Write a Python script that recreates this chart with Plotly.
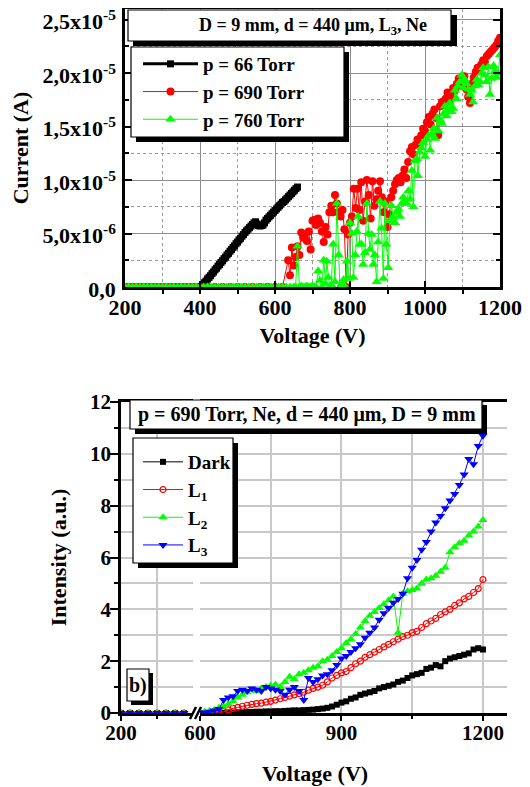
import plotly.graph_objects as go

# The page body has an 8px default margin: lay the figure out in window pixels.
OFF = 8
W, H = 530 - OFF, 787 - OFF
FONT = "Liberation Serif"

# ---------------- Top chart: current (in 1e-6 A) vs voltage ----------------
v66 = [200, 220, 240, 260, 280, 300, 320, 340, 360, 380, 400,
       404, 408, 412, 416, 420, 424, 428, 432, 436, 440, 444, 448, 452, 456, 460,
       464, 468, 472, 476, 480, 484, 488, 492, 496, 500, 504, 508, 512, 516, 520,
       524, 528, 532, 536, 540, 544, 548, 552, 556, 560, 564, 568, 572, 576, 580,
       584, 588, 592, 596, 600, 604, 608, 612, 616, 620, 624, 628, 632, 636, 640,
       644, 648, 652, 656, 660]
i66 = [0, 0, 0, 0, 0, 0, 0, 0, 0, 0, 0,
       0.05, 0.2, 0.4, 0.55, 0.75, 0.9, 1.05, 1.25, 1.4, 1.6, 1.75, 1.95, 2.1, 2.3, 2.45,
       2.65, 2.8, 3.0, 3.15, 3.35, 3.5, 3.7, 3.85, 4.05, 4.2, 4.4, 4.55, 4.75, 4.9, 5.1,
       5.25, 5.4, 5.55, 5.7, 5.85, 6.0, 6.1, 5.9, 5.75, 5.7, 5.75, 5.8, 6.0, 6.25, 6.4,
       6.55, 6.7, 6.85, 7.0, 7.15, 7.3, 7.45, 7.6, 7.75, 7.9, 8.0, 8.15, 8.3, 8.45, 8.6,
       8.75, 8.9, 9.05, 9.2, 9.35]

v690 = [200, 220, 240, 260, 280, 300, 320, 340, 360, 380, 400, 420, 440, 460, 480,
        500, 520, 540, 560, 580, 600, 620,
        635, 640, 645, 650, 655, 660, 665, 670, 675, 680,
        685, 690, 695, 700, 705, 710, 715, 720, 725, 730,
        735, 740, 745, 750, 755, 760, 765, 770, 775, 780,
        785, 790, 795, 800, 805, 810, 815, 820, 825, 830,
        835, 840, 845, 850, 855, 860, 865, 870, 875, 880,
        885, 890, 895, 900, 905, 910, 915, 920, 925, 930,
        935, 940, 945, 950, 955, 960, 965, 970, 975, 980,
        985, 990, 995, 1000, 1005, 1010, 1015, 1020, 1025, 1030,
        1035, 1040, 1045, 1050, 1055, 1060, 1065, 1070, 1075, 1080,
        1085, 1090, 1095, 1100, 1105, 1110, 1115, 1120, 1125, 1130,
        1135, 1140, 1145, 1150, 1155, 1160, 1165, 1170, 1175, 1180,
        1185, 1190, 1195, 1200]
i690 = [0, 0, 0, 0, 0, 0, 0, 0, 0, 0, 0, 0, 0, 0, 0,
        0, 0, 0, 0, 0, 0, 0,
        2.5, 1.1, 3.7, 2.0, 2.8, 3.8, 3.0, 5.1, 4.6, 4.9,
        4.3, 5.2, 3.5, 6.2, 6.3, 5.8, 6.4, 6.0, 5.2, 4.2,
        5.6, 4.9, 7.0, 7.6, 7.0, 8.6, 7.8, 7.0, 6.6, 7.2,
        5.4, 0.0, 4.9, 6.0, 6.6, 9.2, 7.4, 9.2, 7.2, 9.8,
        6.2, 8.0, 10.0, 8.6, 6.4, 9.9, 7.6, 8.2, 9.0, 9.9,
        8.4, 7.0, 8.0, 5.6, 6.8, 8.4, 9.0, 9.6, 10.0, 10.2,
        9.8, 10.4, 11.0, 10.2, 11.7, 12.7, 13.1, 12.4, 13.3, 13.8,
        13.4, 14.2, 14.8, 14.6, 15.4, 15.9, 15.2, 16.2, 16.6, 15.8,
        14.2, 16.9, 17.3, 17.0, 17.6, 18.2, 17.4, 18.0, 18.6, 18.4,
        19.0, 19.5, 18.8, 19.2, 19.7, 18.5, 17.8, 17.2, 19.0, 19.6,
        20.1, 20.5, 20.2, 20.8, 21.2, 21.0, 21.6, 21.8, 22.0, 22.2,
        22.4, 22.6, 23.0, 23.3]

v760 = [200, 210, 220, 230, 240, 250, 260, 270, 280, 290,
        300, 310, 320, 330, 340, 350, 360, 370, 380, 390,
        400, 410, 420, 430, 440, 450, 460, 470, 480, 490,
        500, 510, 520, 530, 540, 550, 560, 570, 580, 590,
        600, 610, 620, 630, 640, 650,
        655, 660, 665, 670, 675, 680, 685, 690, 695, 700,
        705, 710, 715, 720, 725, 730, 735, 738, 742, 746,
        750, 755, 760, 765, 770, 773, 778, 783, 788, 792,
        796, 800, 805, 809, 814, 818, 822, 826, 831, 835,
        840, 845, 849, 853, 858, 862, 866, 871, 875, 880,
        884, 889, 893, 897, 902, 906, 911, 915, 920, 925,
        929, 933, 938, 942, 946, 951, 956, 960, 965, 969,
        973, 978, 981, 986, 990, 995, 1000, 1005, 1010, 1014,
        1018, 1023, 1027, 1032, 1036, 1041, 1045, 1049, 1053, 1058,
        1062, 1066, 1071, 1075, 1080, 1084, 1088, 1093, 1098, 1102,
        1106, 1111, 1116, 1120, 1124, 1128, 1133, 1138, 1142, 1147,
        1151, 1155, 1160, 1164, 1169, 1173, 1178, 1183, 1187, 1191,
        1195, 1200]
i760 = [0, 0, 0, 0, 0, 0, 0, 0, 0, 0,
        0, 0, 0, 0, 0, 0, 0, 0, 0, 0,
        0, 0, 0, 0, 0, 0, 0, 0, 0, 0,
        0, 0, 0, 0, 0, 0, 0, 0, 0, 0,
        0, 0, 0, 0, 0, 0,
        0.0, 3.8, 0.0, 0.1, 0.0, 0.0, 0.1, 0.0, 0.0, 0.1,
        0.0, 0.0, 1.5, 0.6, 0.0, 2.5, 0.3, 2.4, 0.9, 0.0,
        0.2, 4.0, 0.5, 7.8, 3.0, 0.0, 0.3, 0.7, 0.0, 2.4,
        0.8, 6.0, 5.0, 0.9, 3.0, 5.2, 6.6, 4.0, 4.0, 2.1,
        3.2, 7.8, 5.0, 3.5, 4.9, 2.1, 3.0, 0.5, 4.2, 8.0,
        5.5, 0.8, 7.8, 4.0, 1.8, 6.2, 7.6, 6.5, 6.0, 7.0,
        7.3, 6.6, 7.8, 8.4, 8.0, 7.8, 9.0, 8.2, 10.9, 7.5,
        11.8, 12.0, 10.4, 12.6, 13.0, 13.5, 12.2, 13.8, 14.2, 12.8,
        14.3, 14.8, 13.9, 15.8, 14.6, 15.6, 15.3, 16.2, 16.9, 16.0,
        16.6, 17.2, 16.4, 16.7, 18.4, 17.6, 18.8, 19.2, 19.8, 18.6,
        19.4, 19.0, 18.5, 18.0, 18.4, 17.3, 18.8, 19.4, 18.9, 19.2,
        20.0, 20.5, 19.8, 19.2, 20.6, 18.0, 19.5, 20.7, 20.2, 19.6,
        20.0, 21.7]

top_xticks = [200, 400, 600, 800, 1000, 1200]
top_yticks = [0, 5e-6, 1e-5, 1.5e-5, 2e-5, 2.5e-5]
top_yticktext = ["0,0", "5,0x10<sup>-6</sup>", "1,0x10<sup>-5</sup>",
                 "1,5x10<sup>-5</sup>", "2,0x10<sup>-5</sup>", "2,5x10<sup>-5</sup>"]

# ---------------- Bottom chart: intensity vs voltage ----------------
v_left = [200, 250, 300, 350, 400, 450, 500, 550]
dark_left = [0, 0, 0, 0, 0, 0, 0, 0]
l1_left = [0, 0, 0, 0, 0, 0, 0, 0]
l2_left = [0, 0, 0, 0, 0, 0, 0, 0]
l3_left = [0, 0, 0, 0, 0, 0, 0, 0]

v_right = [600, 610, 620, 630, 640, 650, 660, 670, 680, 690,
           700, 710, 720, 730, 740, 750, 760, 770, 780, 790,
           800, 810, 820, 830, 840, 850, 860, 870, 880, 890,
           900, 910, 920, 930, 940, 950, 960, 970, 980, 990,
           1000, 1010, 1020, 1030, 1040, 1050, 1060, 1070, 1080, 1090,
           1100, 1110, 1120, 1130, 1140, 1150, 1160, 1170, 1180, 1190,
           1200]
dark = [0.0, 0.0, 0.0, 0.0, 0.0, 0.0, 0.02, 0.02, 0.03, 0.03,
        0.04, 0.04, 0.05, 0.05, 0.06, 0.06, 0.07, 0.07, 0.08, 0.09,
        0.1, 0.1, 0.11, 0.12, 0.13, 0.15, 0.17, 0.2, 0.25, 0.32,
        0.4, 0.45, 0.55, 0.6, 0.7, 0.75, 0.8, 0.85, 0.95, 1.0,
        1.05, 1.1, 1.2, 1.25, 1.35, 1.45, 1.5, 1.55, 1.7, 1.75,
        1.85, 1.8, 2.0, 2.1, 2.15, 2.2, 2.25, 2.3, 2.45, 2.5,
        2.45]
l1 = [0.0, 0.0, 0.0, 0.0, 0.02, 0.05, 0.12, 0.18, 0.22, 0.26,
      0.3, 0.33, 0.36, 0.38, 0.42, 0.45, 0.5, 0.55, 0.6, 0.65,
      0.7, 0.75, 0.8, 0.88, 0.95, 1.0, 1.07, 1.2, 1.35, 1.45,
      1.55, 1.6, 1.75, 1.9, 2.0, 2.15, 2.25, 2.35, 2.45, 2.55,
      2.65, 2.75, 2.85, 2.95, 3.0, 3.1, 3.15, 3.3, 3.45, 3.55,
      3.65, 3.8, 3.9, 4.0, 4.15, 4.25, 4.4, 4.5, 4.65, 4.8,
      5.15]
l2 = [0.02, 0.05, 0.08, 0.12, 0.2, 0.25, 0.35, 0.45, 0.6, 0.7,
      0.8, 0.9, 0.85, 0.95, 1.0, 1.05, 1.1, 1.0, 1.2, 1.4,
      1.3, 1.5, 1.55, 1.65, 1.75, 1.8, 2.0, 2.05, 2.2, 2.35,
      2.5, 2.7, 2.85, 3.05, 3.3, 3.55, 3.75, 3.9, 4.05, 4.2,
      4.35, 4.5, 3.1, 4.6, 4.7, 4.75, 4.8, 5.0, 5.15, 5.2,
      5.3, 5.45, 5.6, 6.2, 6.4, 6.55, 6.65, 6.85, 7.0, 7.2,
      7.45]
l3 = [0.0, 0.02, 0.05, 0.1, 0.15, 0.5, 0.6, 0.65, 0.85, 0.9,
      0.85, 0.95, 0.9, 0.85, 1.0, 0.95, 0.9, 0.85, 0.7, 0.9,
      1.0, 0.85, 0.5, 1.35, 1.2, 1.3, 1.45, 1.5, 1.65, 1.85,
      2.1, 2.2, 2.35, 2.5, 2.65, 2.9, 3.1, 3.3, 3.6, 3.85,
      4.05, 4.25, 4.4, 4.6, 5.2, 5.6, 5.9, 6.3, 6.6, 7.0,
      7.35, 7.6, 7.9, 8.2, 8.45, 8.8, 9.2, 9.8, 9.6, 10.3,
      10.7]

bottom_yticks = [0, 2, 4, 6, 8, 10, 12]


def px(x):
    return (x - OFF) / W


def py(y):
    return 1 - (y - OFF) / H


def f(size):
    return dict(family=FONT, size=size, color="black", weight="bold")


fig = go.Figure()

# top traces
fig.add_trace(go.Scatter(x=v66, y=[v * 1e-6 for v in i66], mode="lines+markers",
                         name="p = 66 Torr", xaxis="x", yaxis="y", legend="legend",
                         line=dict(color="black", width=3),
                         marker=dict(symbol="square", size=7, color="black")))
fig.add_trace(go.Scatter(x=v690, y=[v * 1e-6 for v in i690], mode="lines+markers",
                         name="p = 690 Torr", xaxis="x", yaxis="y", legend="legend",
                         line=dict(color="#ff0000", width=1),
                         marker=dict(symbol="circle", size=8, color="#ff0000")))
fig.add_trace(go.Scatter(x=v760, y=[v * 1e-6 for v in i760], mode="lines+markers",
                         name="p = 760 Torr", xaxis="x", yaxis="y", legend="legend",
                         line=dict(color="#00ff00", width=1),
                         marker=dict(symbol="triangle-up", size=9, color="#00ff00")))

# bottom traces
styles = [
    ("Dark", dark_left, dark, "black", dict(symbol="square", size=6, color="black")),
    ("L<sub>1</sub>", l1_left, l1, "#ff0000",
     dict(symbol="circle-open", size=6, color="#ff0000", line=dict(width=1.2))),
    ("L<sub>2</sub>", l2_left, l2, "#00ff00", dict(symbol="triangle-up", size=8, color="#00ff00")),
    ("L<sub>3</sub>", l3_left, l3, "#0000ff", dict(symbol="triangle-down", size=8, color="#0000ff")),
]
for i, (name, yl, yr, col, mk) in enumerate(styles):
    fig.add_trace(go.Scatter(x=v_left, y=yl, mode="lines+markers", name=name,
                             xaxis="x2", yaxis="y2", legend="legend2", legendgroup=f"g{i}",
                             showlegend=False, line=dict(color=col, width=1), marker=mk))
    fig.add_trace(go.Scatter(x=v_right, y=yr, mode="lines+markers", name=name,
                             xaxis="x3", yaxis="y2", legend="legend2", legendgroup=f"g{i}",
                             line=dict(color=col, width=1), marker=mk))

grid_major = "#8c8c8c"
grid_minor = "#9c9c9c"
grid_b = "#c8c8c8"

common_line = dict(showline=True, linecolor="black", zeroline=False, tickcolor="black",
                   automargin=False, ticklabeloverflow="allow")

fig.update_layout(
    template="none",
    width=W, height=H, autosize=False,
    margin=dict(l=0, r=0, t=0, b=0, pad=0),
    paper_bgcolor="white", plot_bgcolor="white",
    font=f(20),
    xaxis=dict(domain=[px(125), px(500)], range=[200, 1200], anchor="y",
               tickmode="array", tickvals=top_xticks,
               ticks="inside", ticklen=6, tickwidth=1.5, linewidth=2.5, mirror=True,
               showgrid=True, gridcolor=grid_major, gridwidth=1,
               minor=dict(dtick=100, tick0=200, ticks="outside", ticklen=4, tickwidth=1.5,
                          tickcolor="black", showgrid=True, gridcolor=grid_minor,
                          griddash="dot", gridwidth=1),
               tickfont=f(22), ticklabelstandoff=-1,
               title=dict(text="Voltage (V)", font=f(22), standoff=9),
               **common_line),
    yaxis=dict(domain=[py(287), py(9)], range=[0, 2.6e-5], anchor="x",
               tickmode="array", tickvals=top_yticks, ticktext=top_yticktext,
               ticks="inside", ticklen=7, tickwidth=1.5, linewidth=2.5, mirror="ticks",
               showgrid=True, gridcolor=grid_major, gridwidth=1,
               minor=dict(dtick=2.5e-6, tick0=0, ticks="inside", ticklen=4, tickwidth=1.5,
                          tickcolor="black", showgrid=True, gridcolor=grid_minor,
                          griddash="dot", gridwidth=1),
               tickfont=f(22), ticklabelstandoff=2, ticklabelshift=2,
               title=dict(text="Current (A)", font=f(22), standoff=8),
               **common_line),
    xaxis2=dict(domain=[px(121), px(193)], range=[200, 600], anchor="y2",
                tickmode="array", tickvals=[200], ticks="outside", ticklen=5, tickwidth=1.5,
                linewidth=2.5, mirror=True, showgrid=True, gridcolor=grid_b, gridwidth=1.5,
                minor=dict(tickmode="array", tickvals=[400], ticks="outside", ticklen=3,
                           tickwidth=1.5, tickcolor="black", showgrid=True, gridcolor=grid_b,
                           gridwidth=1.5),
                tickfont=f(21), ticklabelstandoff=-6, **common_line),
    xaxis3=dict(domain=[px(200), px(507)], range=[600, 1251], anchor="y2",
                tickmode="array", tickvals=[600, 900, 1200], ticks="outside", ticklen=5,
                tickwidth=1.5, linewidth=2.5, mirror=True, showgrid=True, gridcolor=grid_b,
                gridwidth=1.5,
                minor=dict(tickmode="array", tickvals=[750, 1050], ticks="outside", ticklen=3,
                           tickwidth=1.5, tickcolor="black", showgrid=True, gridcolor=grid_b,
                           gridwidth=1.5),
                tickfont=f(21), ticklabelstandoff=-6, **common_line),
    yaxis2=dict(domain=[py(713), py(402)], range=[0, 12], anchor="x2",
                tickmode="array", tickvals=bottom_yticks, ticks="outside", ticklen=8,
                tickwidth=1.5, linewidth=2.5, showgrid=True, gridcolor=grid_b, gridwidth=1.5,
                minor=dict(dtick=1, tick0=0, ticks="outside", ticklen=4, tickwidth=1.5,
                           tickcolor="black", showgrid=True, gridcolor=grid_b, gridwidth=1.5),
                tickfont=f(21), ticklabelstandoff=-5,
                title=dict(text="Intensity (a.u.)", font=f(22), standoff=18),
                **common_line),
    yaxis3=dict(overlaying="y2", anchor="x3", side="right", range=[0, 12],
                showline=True, linecolor="black", linewidth=2, ticks="",
                showticklabels=False, showgrid=False, zeroline=False, automargin=False),
    legend=dict(x=px(138), y=py(45), xanchor="left", yanchor="top",
                bgcolor="rgba(0,0,0,0)", borderwidth=0,
                font=f(19), itemwidth=55, tracegroupgap=0),
    legend2=dict(x=px(138), y=py(443), xanchor="left", yanchor="top",
                 bgcolor="rgba(0,0,0,0)", borderwidth=0,
                 font=f(19), itemwidth=40, tracegroupgap=0),
)


def rect(x0, y0, x1, y1, fill, line_w=0):
    return dict(type="rect", xref="paper", yref="paper", layer="above",
                x0=px(x0), x1=px(x1), y0=py(y1), y1=py(y0),
                fillcolor=fill, line=dict(color="black", width=line_w))


shapes = [
    # top info box
    rect(133, 15, 457, 46, "black"),
    rect(128, 10, 451, 41, "white", 1.2),
    # top legend frame + shadow
    rect(136, 52, 349, 142, "black"),
    rect(131, 47, 344, 137, "white", 1.2),
    # bottom info box
    rect(135, 405, 487, 434, "black"),
    rect(130, 400, 482, 429, "white", 1.2),
    # bottom legend frame + shadow
    rect(138, 443, 238, 568, "black"),
    rect(133, 438, 233, 563, "white", 1.2),
    # b) label box
    rect(131, 673, 153, 705, "black"),
    rect(127, 669, 149, 701, "white", 1.2),
    # axis break marks
    dict(type="line", xref="paper", yref="paper", layer="above",
         x0=px(190), y0=py(719), x1=px(196), y1=py(707), line=dict(color="black", width=2.5)),
    dict(type="line", xref="paper", yref="paper", layer="above",
         x0=px(195), y0=py(719), x1=px(201), y1=py(707), line=dict(color="black", width=2.5)),
]
fig.update_layout(shapes=shapes)

annotations = [
    dict(text="D = 9 mm, d = 440 μm, L<sub>3</sub>, Ne", x=px(313), y=py(26),
         xref="paper", yref="paper", xanchor="center", yanchor="middle",
         showarrow=False, font=f(18)),
    dict(text="p = 690 Torr, Ne, d = 440 μm, D = 9 mm", x=px(307), y=py(415),
         xref="paper", yref="paper", xanchor="center", yanchor="middle",
         showarrow=False, font=f(20)),
    dict(text="b)", x=px(138), y=py(685), xref="paper", yref="paper",
         xanchor="center", yanchor="middle", showarrow=False, font=f(20)),
    dict(text="Voltage (V)", x=px(315), y=py(773), xref="paper", yref="paper",
         xanchor="center", yanchor="middle", showarrow=False, font=f(22)),
]
fig.update_layout(annotations=annotations)

fig.write_html("out.html")
